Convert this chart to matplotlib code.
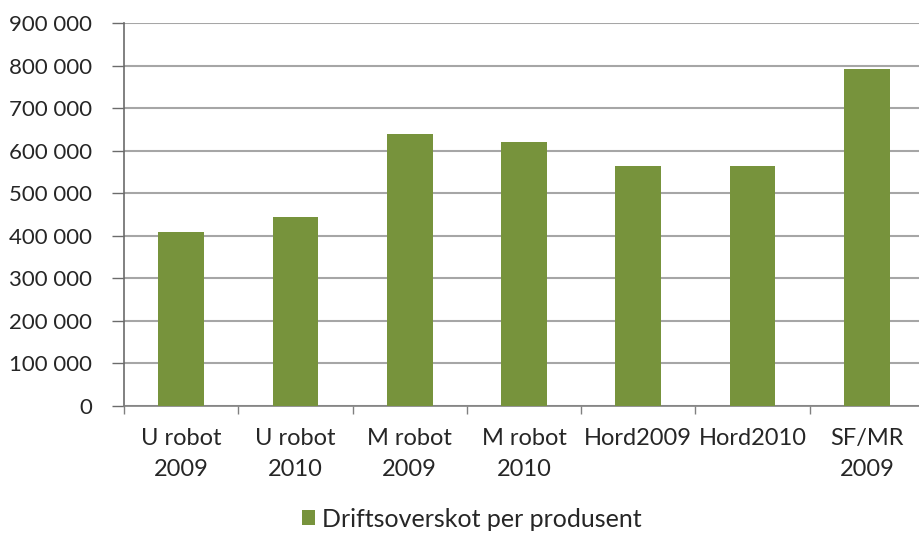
import matplotlib.pyplot as plt
import numpy as np

categories = ["U robot\n2009", "U robot\n2010", "M robot\n2009", "M robot\n2010",
              "Hord2009", "Hord2010", "SF/MR\n2009"]
values = [410000, 443000, 638000, 620000, 564000, 564000, 792000]
series_name = "Driftsoverskot per produsent"
yticks = np.arange(0, 900001, 100000)
ytick_labels = ["0" if v == 0 else f"{v // 1000} 000" for v in yticks]

plt.rcParams['font.family'] = ['Lato', 'DejaVu Sans']

fig = plt.figure(figsize=(9.19, 5.33), dpi=100)
ax = fig.add_axes([124 / 919, 127 / 533, 800 / 919, 383 / 533])

x = np.arange(len(categories))
ax.bar(x, values, width=0.4, color="#77933C", label=series_name, zorder=3)

ax.set_xlim(-0.5, len(categories) - 0.5)
ax.set_ylim(0, 900000)
ax.set_yticks(yticks)
ax.set_yticklabels(ytick_labels, fontsize=16, color="#262626")
ax.yaxis.grid(True, color="#A6A6A6", linewidth=1.5, zorder=0)

# category labels centred, ticks between categories
ax.set_xticks(x)
ax.set_xticklabels(categories, fontsize=17, color="#262626", linespacing=1.55)
ax.tick_params(axis="x", which="major", length=0, pad=16)
ax.set_xticks(np.arange(-0.5, len(categories), 1), minor=True)
ax.tick_params(axis="x", which="minor", length=6, width=1, color="#808080")
ax.tick_params(axis="y", length=9, width=1, color="#6b6b6b", pad=14)

for s in ["top", "right"]:
    ax.spines[s].set_visible(False)
ax.spines["left"].set_color("#6b6b6b")
ax.spines["left"].set_linewidth(1.2)
ax.spines["bottom"].set_color("#808080")
ax.spines["bottom"].set_linewidth(1.2)

fig.legend(loc="center", bbox_to_anchor=(0.513, 0.026), frameon=False,
           fontsize=18, handlelength=0.55, handleheight=0.55, handletextpad=0.25,
           labelcolor="#262626")

fig.savefig("out.png", dpi=100)
